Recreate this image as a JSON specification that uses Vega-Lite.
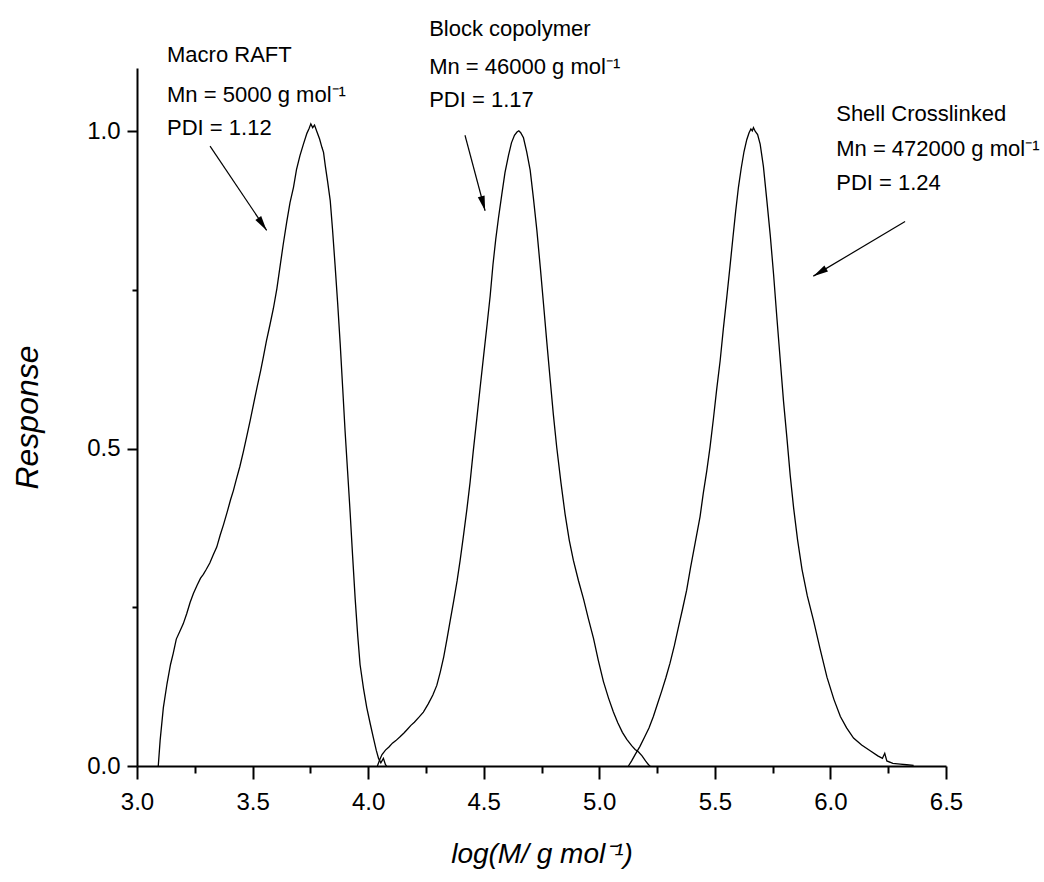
{
  "$schema": "https://vega.github.io/schema/vega-lite/v6.json",
  "width": 809,
  "height": 698,
  "autosize": "none",
  "padding": {"left": 137, "top": 68, "right": 98, "bottom": 116},
  "background": "white",
  "config": {
    "view": {"stroke": null},
    "font": "Liberation Sans",
    "axis": {
      "grid": false,
      "domainColor": "black",
      "domainWidth": 2,
      "tickColor": "black",
      "tickWidth": 2,
      "labelColor": "black",
      "labelFont": "Liberation Sans",
      "labelFontSize": 24,
      "titleColor": "black",
      "titleFont": "Liberation Sans",
      "titleFontWeight": "normal",
      "titleFontStyle": "italic"
    }
  },
  "datasets": {
    "curves": [
      {"series": "Macro RAFT", "x": 3.092, "y": 0.0},
      {"series": "Macro RAFT", "x": 3.1, "y": 0.04},
      {"series": "Macro RAFT", "x": 3.114, "y": 0.092},
      {"series": "Macro RAFT", "x": 3.13, "y": 0.13},
      {"series": "Macro RAFT", "x": 3.145, "y": 0.16},
      {"series": "Macro RAFT", "x": 3.157, "y": 0.178},
      {"series": "Macro RAFT", "x": 3.17, "y": 0.2},
      {"series": "Macro RAFT", "x": 3.185, "y": 0.212},
      {"series": "Macro RAFT", "x": 3.2, "y": 0.224},
      {"series": "Macro RAFT", "x": 3.215, "y": 0.24},
      {"series": "Macro RAFT", "x": 3.23, "y": 0.258},
      {"series": "Macro RAFT", "x": 3.244, "y": 0.272},
      {"series": "Macro RAFT", "x": 3.26, "y": 0.285},
      {"series": "Macro RAFT", "x": 3.275, "y": 0.296},
      {"series": "Macro RAFT", "x": 3.287, "y": 0.302},
      {"series": "Macro RAFT", "x": 3.3, "y": 0.31},
      {"series": "Macro RAFT", "x": 3.315, "y": 0.32},
      {"series": "Macro RAFT", "x": 3.33, "y": 0.333},
      {"series": "Macro RAFT", "x": 3.345, "y": 0.345},
      {"series": "Macro RAFT", "x": 3.36, "y": 0.364},
      {"series": "Macro RAFT", "x": 3.374, "y": 0.38},
      {"series": "Macro RAFT", "x": 3.39, "y": 0.4},
      {"series": "Macro RAFT", "x": 3.405, "y": 0.42},
      {"series": "Macro RAFT", "x": 3.417, "y": 0.434},
      {"series": "Macro RAFT", "x": 3.43, "y": 0.452},
      {"series": "Macro RAFT", "x": 3.445, "y": 0.472},
      {"series": "Macro RAFT", "x": 3.46, "y": 0.495},
      {"series": "Macro RAFT", "x": 3.475, "y": 0.52},
      {"series": "Macro RAFT", "x": 3.49, "y": 0.545},
      {"series": "Macro RAFT", "x": 3.504, "y": 0.57},
      {"series": "Macro RAFT", "x": 3.52, "y": 0.598},
      {"series": "Macro RAFT", "x": 3.535, "y": 0.623},
      {"series": "Macro RAFT", "x": 3.547, "y": 0.645},
      {"series": "Macro RAFT", "x": 3.56, "y": 0.67},
      {"series": "Macro RAFT", "x": 3.575, "y": 0.695},
      {"series": "Macro RAFT", "x": 3.59, "y": 0.721},
      {"series": "Macro RAFT", "x": 3.605, "y": 0.752},
      {"series": "Macro RAFT", "x": 3.62, "y": 0.79},
      {"series": "Macro RAFT", "x": 3.633, "y": 0.823},
      {"series": "Macro RAFT", "x": 3.648, "y": 0.858},
      {"series": "Macro RAFT", "x": 3.662, "y": 0.888},
      {"series": "Macro RAFT", "x": 3.677, "y": 0.912},
      {"series": "Macro RAFT", "x": 3.69, "y": 0.94},
      {"series": "Macro RAFT", "x": 3.705, "y": 0.962},
      {"series": "Macro RAFT", "x": 3.72, "y": 0.98},
      {"series": "Macro RAFT", "x": 3.735, "y": 0.997},
      {"series": "Macro RAFT", "x": 3.745, "y": 1.005},
      {"series": "Macro RAFT", "x": 3.752, "y": 1.012},
      {"series": "Macro RAFT", "x": 3.76, "y": 1.006},
      {"series": "Macro RAFT", "x": 3.768, "y": 1.01},
      {"series": "Macro RAFT", "x": 3.778, "y": 1.0},
      {"series": "Macro RAFT", "x": 3.79, "y": 0.988},
      {"series": "Macro RAFT", "x": 3.8, "y": 0.975},
      {"series": "Macro RAFT", "x": 3.807, "y": 0.967},
      {"series": "Macro RAFT", "x": 3.815, "y": 0.945},
      {"series": "Macro RAFT", "x": 3.825, "y": 0.92},
      {"series": "Macro RAFT", "x": 3.836, "y": 0.891},
      {"series": "Macro RAFT", "x": 3.846, "y": 0.845},
      {"series": "Macro RAFT", "x": 3.857, "y": 0.789},
      {"series": "Macro RAFT", "x": 3.868, "y": 0.73},
      {"series": "Macro RAFT", "x": 3.879, "y": 0.666},
      {"series": "Macro RAFT", "x": 3.89, "y": 0.595},
      {"series": "Macro RAFT", "x": 3.9, "y": 0.529},
      {"series": "Macro RAFT", "x": 3.911, "y": 0.465},
      {"series": "Macro RAFT", "x": 3.922, "y": 0.4},
      {"series": "Macro RAFT", "x": 3.933, "y": 0.33},
      {"series": "Macro RAFT", "x": 3.944, "y": 0.263},
      {"series": "Macro RAFT", "x": 3.955, "y": 0.205},
      {"series": "Macro RAFT", "x": 3.965, "y": 0.16},
      {"series": "Macro RAFT", "x": 3.98, "y": 0.122},
      {"series": "Macro RAFT", "x": 3.994, "y": 0.092},
      {"series": "Macro RAFT", "x": 4.01, "y": 0.065},
      {"series": "Macro RAFT", "x": 4.023, "y": 0.044},
      {"series": "Macro RAFT", "x": 4.035, "y": 0.025},
      {"series": "Macro RAFT", "x": 4.045, "y": 0.012},
      {"series": "Macro RAFT", "x": 4.055, "y": 0.005},
      {"series": "Macro RAFT", "x": 4.066, "y": 0.012},
      {"series": "Macro RAFT", "x": 4.075, "y": 0.002},
      {"series": "Macro RAFT", "x": 4.08, "y": 0.0},
      {"series": "Block copolymer", "x": 4.04, "y": 0.0},
      {"series": "Block copolymer", "x": 4.05, "y": 0.01},
      {"series": "Block copolymer", "x": 4.06, "y": 0.018},
      {"series": "Block copolymer", "x": 4.075, "y": 0.025},
      {"series": "Block copolymer", "x": 4.09, "y": 0.03},
      {"series": "Block copolymer", "x": 4.105, "y": 0.036},
      {"series": "Block copolymer", "x": 4.12, "y": 0.04},
      {"series": "Block copolymer", "x": 4.138, "y": 0.046},
      {"series": "Block copolymer", "x": 4.155, "y": 0.052},
      {"series": "Block copolymer", "x": 4.17, "y": 0.058},
      {"series": "Block copolymer", "x": 4.185, "y": 0.064},
      {"series": "Block copolymer", "x": 4.2, "y": 0.069},
      {"series": "Block copolymer", "x": 4.22, "y": 0.077},
      {"series": "Block copolymer", "x": 4.239, "y": 0.085},
      {"series": "Block copolymer", "x": 4.26, "y": 0.098},
      {"series": "Block copolymer", "x": 4.28, "y": 0.112},
      {"series": "Block copolymer", "x": 4.297, "y": 0.127},
      {"series": "Block copolymer", "x": 4.312, "y": 0.148},
      {"series": "Block copolymer", "x": 4.327, "y": 0.172},
      {"series": "Block copolymer", "x": 4.341, "y": 0.2},
      {"series": "Block copolymer", "x": 4.355, "y": 0.229},
      {"series": "Block copolymer", "x": 4.37, "y": 0.26},
      {"series": "Block copolymer", "x": 4.385, "y": 0.292},
      {"series": "Block copolymer", "x": 4.398, "y": 0.324},
      {"series": "Block copolymer", "x": 4.412, "y": 0.362},
      {"series": "Block copolymer", "x": 4.427, "y": 0.404},
      {"series": "Block copolymer", "x": 4.441, "y": 0.447},
      {"series": "Block copolymer", "x": 4.455, "y": 0.497},
      {"series": "Block copolymer", "x": 4.47, "y": 0.547},
      {"series": "Block copolymer", "x": 4.485, "y": 0.598},
      {"series": "Block copolymer", "x": 4.5, "y": 0.648},
      {"series": "Block copolymer", "x": 4.515, "y": 0.697},
      {"series": "Block copolymer", "x": 4.528, "y": 0.741},
      {"series": "Block copolymer", "x": 4.54, "y": 0.79},
      {"series": "Block copolymer", "x": 4.552, "y": 0.83},
      {"series": "Block copolymer", "x": 4.564, "y": 0.864},
      {"series": "Block copolymer", "x": 4.578, "y": 0.9},
      {"series": "Block copolymer", "x": 4.592, "y": 0.935},
      {"series": "Block copolymer", "x": 4.607, "y": 0.962},
      {"series": "Block copolymer", "x": 4.62, "y": 0.982},
      {"series": "Block copolymer", "x": 4.633, "y": 0.994},
      {"series": "Block copolymer", "x": 4.644, "y": 0.999},
      {"series": "Block copolymer", "x": 4.652, "y": 1.001},
      {"series": "Block copolymer", "x": 4.66, "y": 0.998},
      {"series": "Block copolymer", "x": 4.672, "y": 0.99},
      {"series": "Block copolymer", "x": 4.686, "y": 0.968},
      {"series": "Block copolymer", "x": 4.701, "y": 0.939},
      {"series": "Block copolymer", "x": 4.715, "y": 0.895},
      {"series": "Block copolymer", "x": 4.73, "y": 0.844},
      {"series": "Block copolymer", "x": 4.745, "y": 0.785},
      {"series": "Block copolymer", "x": 4.759, "y": 0.727},
      {"series": "Block copolymer", "x": 4.773, "y": 0.668},
      {"series": "Block copolymer", "x": 4.787, "y": 0.611},
      {"series": "Block copolymer", "x": 4.801, "y": 0.555},
      {"series": "Block copolymer", "x": 4.816, "y": 0.502},
      {"series": "Block copolymer", "x": 4.834, "y": 0.447},
      {"series": "Block copolymer", "x": 4.852, "y": 0.397},
      {"series": "Block copolymer", "x": 4.87, "y": 0.356},
      {"series": "Block copolymer", "x": 4.888, "y": 0.324},
      {"series": "Block copolymer", "x": 4.91, "y": 0.292},
      {"series": "Block copolymer", "x": 4.932, "y": 0.263},
      {"series": "Block copolymer", "x": 4.953, "y": 0.232},
      {"series": "Block copolymer", "x": 4.975, "y": 0.201},
      {"series": "Block copolymer", "x": 4.996, "y": 0.166},
      {"series": "Block copolymer", "x": 5.018, "y": 0.133},
      {"series": "Block copolymer", "x": 5.04, "y": 0.107},
      {"series": "Block copolymer", "x": 5.061, "y": 0.085},
      {"series": "Block copolymer", "x": 5.08, "y": 0.068},
      {"series": "Block copolymer", "x": 5.1, "y": 0.053},
      {"series": "Block copolymer", "x": 5.119, "y": 0.042},
      {"series": "Block copolymer", "x": 5.14, "y": 0.032},
      {"series": "Block copolymer", "x": 5.155, "y": 0.026},
      {"series": "Block copolymer", "x": 5.17, "y": 0.022},
      {"series": "Block copolymer", "x": 5.185, "y": 0.016},
      {"series": "Block copolymer", "x": 5.2, "y": 0.008},
      {"series": "Block copolymer", "x": 5.213, "y": 0.002},
      {"series": "Block copolymer", "x": 5.22, "y": 0.0},
      {"series": "Shell Crosslinked", "x": 5.126, "y": 0.0},
      {"series": "Shell Crosslinked", "x": 5.14, "y": 0.008},
      {"series": "Shell Crosslinked", "x": 5.155, "y": 0.018},
      {"series": "Shell Crosslinked", "x": 5.176, "y": 0.031},
      {"series": "Shell Crosslinked", "x": 5.195, "y": 0.045},
      {"series": "Shell Crosslinked", "x": 5.215, "y": 0.06},
      {"series": "Shell Crosslinked", "x": 5.234, "y": 0.078},
      {"series": "Shell Crosslinked", "x": 5.252, "y": 0.098},
      {"series": "Shell Crosslinked", "x": 5.27, "y": 0.118},
      {"series": "Shell Crosslinked", "x": 5.288, "y": 0.139},
      {"series": "Shell Crosslinked", "x": 5.306, "y": 0.162},
      {"series": "Shell Crosslinked", "x": 5.325, "y": 0.19},
      {"series": "Shell Crosslinked", "x": 5.342, "y": 0.218},
      {"series": "Shell Crosslinked", "x": 5.36, "y": 0.247},
      {"series": "Shell Crosslinked", "x": 5.378, "y": 0.277},
      {"series": "Shell Crosslinked", "x": 5.395, "y": 0.313},
      {"series": "Shell Crosslinked", "x": 5.415, "y": 0.352},
      {"series": "Shell Crosslinked", "x": 5.436, "y": 0.393},
      {"series": "Shell Crosslinked", "x": 5.45, "y": 0.43},
      {"series": "Shell Crosslinked", "x": 5.465, "y": 0.465},
      {"series": "Shell Crosslinked", "x": 5.479, "y": 0.502},
      {"series": "Shell Crosslinked", "x": 5.494, "y": 0.548},
      {"series": "Shell Crosslinked", "x": 5.508, "y": 0.594},
      {"series": "Shell Crosslinked", "x": 5.523, "y": 0.639},
      {"series": "Shell Crosslinked", "x": 5.537, "y": 0.69},
      {"series": "Shell Crosslinked", "x": 5.552, "y": 0.74},
      {"series": "Shell Crosslinked", "x": 5.566, "y": 0.789},
      {"series": "Shell Crosslinked", "x": 5.578, "y": 0.832},
      {"series": "Shell Crosslinked", "x": 5.59, "y": 0.874},
      {"series": "Shell Crosslinked", "x": 5.602, "y": 0.912},
      {"series": "Shell Crosslinked", "x": 5.614, "y": 0.942},
      {"series": "Shell Crosslinked", "x": 5.626, "y": 0.968},
      {"series": "Shell Crosslinked", "x": 5.638, "y": 0.987},
      {"series": "Shell Crosslinked", "x": 5.648, "y": 0.998},
      {"series": "Shell Crosslinked", "x": 5.656, "y": 1.004},
      {"series": "Shell Crosslinked", "x": 5.662, "y": 1.001},
      {"series": "Shell Crosslinked", "x": 5.667, "y": 1.006},
      {"series": "Shell Crosslinked", "x": 5.675, "y": 1.0},
      {"series": "Shell Crosslinked", "x": 5.685, "y": 0.995},
      {"series": "Shell Crosslinked", "x": 5.696, "y": 0.98},
      {"series": "Shell Crosslinked", "x": 5.71, "y": 0.945},
      {"series": "Shell Crosslinked", "x": 5.725, "y": 0.891},
      {"series": "Shell Crosslinked", "x": 5.74, "y": 0.835},
      {"series": "Shell Crosslinked", "x": 5.754, "y": 0.775},
      {"series": "Shell Crosslinked", "x": 5.768, "y": 0.708},
      {"series": "Shell Crosslinked", "x": 5.783, "y": 0.639},
      {"series": "Shell Crosslinked", "x": 5.797, "y": 0.575},
      {"series": "Shell Crosslinked", "x": 5.812, "y": 0.516},
      {"series": "Shell Crosslinked", "x": 5.826, "y": 0.458},
      {"series": "Shell Crosslinked", "x": 5.841, "y": 0.406},
      {"series": "Shell Crosslinked", "x": 5.858, "y": 0.356},
      {"series": "Shell Crosslinked", "x": 5.877, "y": 0.31},
      {"series": "Shell Crosslinked", "x": 5.9, "y": 0.268},
      {"series": "Shell Crosslinked", "x": 5.927, "y": 0.229},
      {"series": "Shell Crosslinked", "x": 5.955, "y": 0.185},
      {"series": "Shell Crosslinked", "x": 5.985, "y": 0.14},
      {"series": "Shell Crosslinked", "x": 6.015, "y": 0.105},
      {"series": "Shell Crosslinked", "x": 6.043, "y": 0.078},
      {"series": "Shell Crosslinked", "x": 6.07, "y": 0.06},
      {"series": "Shell Crosslinked", "x": 6.1, "y": 0.044},
      {"series": "Shell Crosslinked", "x": 6.135, "y": 0.033},
      {"series": "Shell Crosslinked", "x": 6.172, "y": 0.024},
      {"series": "Shell Crosslinked", "x": 6.205, "y": 0.016},
      {"series": "Shell Crosslinked", "x": 6.225, "y": 0.012},
      {"series": "Shell Crosslinked", "x": 6.235, "y": 0.02},
      {"series": "Shell Crosslinked", "x": 6.244, "y": 0.008},
      {"series": "Shell Crosslinked", "x": 6.27, "y": 0.004},
      {"series": "Shell Crosslinked", "x": 6.302, "y": 0.003},
      {"series": "Shell Crosslinked", "x": 6.33, "y": 0.002},
      {"series": "Shell Crosslinked", "x": 6.36, "y": 0.001}
    ],
    "arrows": [
      {"id": 1, "x": 3.316, "y": 0.977, "x2": 3.561, "y2": 0.844},
      {"id": 2, "x": 4.419, "y": 0.994, "x2": 4.506, "y2": 0.875},
      {"id": 3, "x": 6.323, "y": 0.858, "x2": 5.926, "y2": 0.772}
    ],
    "labels": [
      {"x": 3.13, "y": 1.109, "text": "Macro RAFT"},
      {"x": 3.13, "y": 1.047, "text": "Mn = 5000 g mol⁻¹"},
      {"x": 3.13, "y": 0.995, "text": "PDI = 1.12"},
      {"x": 4.264, "y": 1.151, "text": "Block copolymer"},
      {"x": 4.264, "y": 1.091, "text": "Mn = 46000 g mol⁻¹"},
      {"x": 4.264, "y": 1.039, "text": "PDI = 1.17"},
      {"x": 6.025, "y": 1.016, "text": "Shell Crosslinked"},
      {"x": 6.025, "y": 0.962, "text": "Mn = 472000 g mol⁻¹"},
      {"x": 6.025, "y": 0.908, "text": "PDI = 1.24"}
    ]
  },
  "encoding": {
    "x": {
      "field": "x",
      "type": "quantitative",
      "scale": {"domain": [3, 6.5], "nice": false, "zero": false},
      "axis": {
        "values": [3, 3.25, 3.5, 3.75, 4, 4.25, 4.5, 4.75, 5, 5.25, 5.5, 5.75, 6, 6.25, 6.5],
        "labelExpr": "(datum.value * 4) % 2 == 0 ? format(datum.value, '.1f') : ''",
        "tickSize": {"condition": {"test": "(datum.value * 4) % 2 != 0", "value": 7}, "value": 13},
        "labelPadding": 11,
        "labelFlush": false,
        "labelOverlap": false,
        "title": "log(M/ g mol⁻¹)",
        "titleFontSize": 28,
        "titleX": 404.5,
        "titleY": 96,
        "titleBaseline": "alphabetic",
        "titleAlign": "center"
      }
    },
    "y": {
      "field": "y",
      "type": "quantitative",
      "scale": {"domain": [0, 1.1], "nice": false, "zero": false},
      "axis": {
        "values": [0, 0.25, 0.5, 0.75, 1],
        "labelExpr": "(datum.value * 4) % 2 == 0 ? format(datum.value, '.1f') : ''",
        "tickSize": {"condition": {"test": "(datum.value * 4) % 2 != 0", "value": 5}, "value": 10},
        "labelPadding": 7,
        "labelFlush": false,
        "labelOverlap": false,
        "title": "Response",
        "titleFontSize": 32,
        "titleAngle": -90,
        "titleX": -100,
        "titleY": 349,
        "titleBaseline": "alphabetic",
        "titleAlign": "center"
      }
    }
  },
  "layer": [
    {
      "data": {"name": "curves"},
      "mark": {"type": "line", "color": "black", "strokeWidth": 1.3},
      "encoding": {"detail": {"field": "series", "type": "nominal"}}
    },
    {
      "data": {"name": "arrows"},
      "mark": {"type": "rule", "color": "black", "strokeWidth": 1.2},
      "encoding": {
        "x2": {"field": "x2"},
        "y2": {"field": "y2"}
      }
    },
    {
      "data": {"name": "arrows"},
      "transform": [{"filter": "datum.id == 1"}],
      "mark": {"type": "point", "shape": "M0,0L-0.7,3L0.7,3Z", "filled": true, "color": "black", "opacity": 1, "size": 100, "angle": 146},
      "encoding": {"x": {"field": "x2", "type": "quantitative"}, "y": {"field": "y2", "type": "quantitative"}}
    },
    {
      "data": {"name": "arrows"},
      "transform": [{"filter": "datum.id == 2"}],
      "mark": {"type": "point", "shape": "M0,0L-0.7,3L0.7,3Z", "filled": true, "color": "black", "opacity": 1, "size": 100, "angle": 165},
      "encoding": {"x": {"field": "x2", "type": "quantitative"}, "y": {"field": "y2", "type": "quantitative"}}
    },
    {
      "data": {"name": "arrows"},
      "transform": [{"filter": "datum.id == 3"}],
      "mark": {"type": "point", "shape": "M0,0L-0.7,3L0.7,3Z", "filled": true, "color": "black", "opacity": 1, "size": 100, "angle": 239},
      "encoding": {"x": {"field": "x2", "type": "quantitative"}, "y": {"field": "y2", "type": "quantitative"}}
    },
    {
      "data": {"name": "labels"},
      "mark": {"type": "text", "align": "left", "baseline": "alphabetic", "fontSize": 22, "font": "Liberation Sans", "color": "black"},
      "encoding": {"text": {"field": "text"}}
    }
  ]
}
